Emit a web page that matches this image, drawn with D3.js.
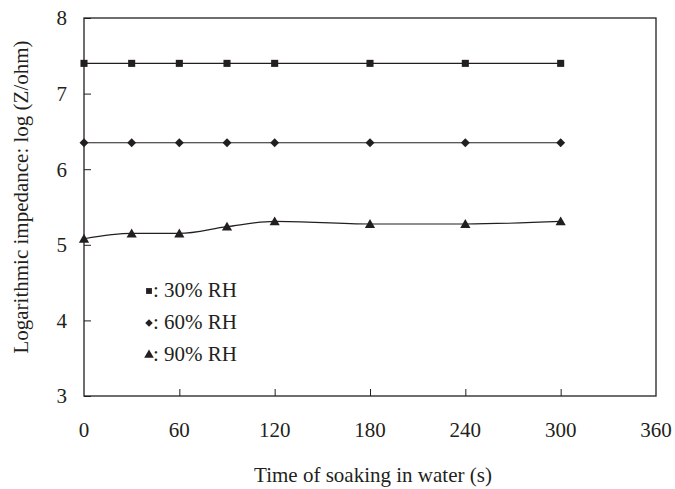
<!DOCTYPE html>
<html><head><meta charset="utf-8">
<script src="https://cdn.jsdelivr.net/npm/d3@7"></script>
<style>body{margin:0;background:#fff}svg{display:block}</style>
</head><body>
<script>
const times = [0, 30, 60, 90, 120, 180, 240, 300];
const rh30 = [7.40, 7.40, 7.40, 7.40, 7.40, 7.40, 7.40, 7.40];
const rh60 = [6.35, 6.35, 6.35, 6.35, 6.35, 6.35, 6.35, 6.35];
const rh90 = [5.08, 5.15, 5.15, 5.24, 5.31, 5.275, 5.275, 5.31];
const xTicks = [0, 60, 120, 180, 240, 300, 360];
const yTicks = [3, 4, 5, 6, 7, 8];
const seriesNames = [": 30% RH", ": 60% RH", " : 90% RH"];

const W = 675, H = 489;
const FONT = "'Liberation Serif', 'Times New Roman', Times, 'DejaVu Serif', serif";
const m = {l: 84, r: 19, t: 18, b: 93};
const svg = d3.select("body").append("svg").attr("width", W).attr("height", H)
  .attr("font-family", FONT);
const x = d3.scaleLinear().domain([0, 360]).range([m.l, W - m.r]);
const y = d3.scaleLinear().domain([3, 8]).range([H - m.b, m.t]);
const ink = "#231f20";
const T = sel => sel.attr("font-family", FONT).attr("fill", ink).attr("font-size", 21);

// frame
svg.append("rect").attr("x", x(0)).attr("y", y(8)).attr("width", x(360) - x(0)).attr("height", y(3) - y(8))
  .attr("fill", "none").attr("stroke", ink).attr("stroke-width", 1.3);

// y axis
const ya = svg.append("g").attr("transform", `translate(${x(0)},0)`)
  .call(d3.axisRight(y).tickValues(yTicks).tickSize(7).tickFormat(""));
ya.select(".domain").remove();
ya.selectAll("line").attr("stroke", ink);
svg.append("g").selectAll("text").data(yTicks).join("text")
  .attr("x", 67).attr("y", d => y(d)).attr("dy", "0.35em").attr("text-anchor", "end")
  .call(T).text(d => d);

// x axis
const xa = svg.append("g").attr("transform", `translate(0,${y(3)})`)
  .call(d3.axisTop(x).tickValues(xTicks.filter(d => d > 0 && d < 360)).tickSize(7).tickFormat(""));
xa.select(".domain").remove();
xa.selectAll("line").attr("stroke", ink);
svg.append("g").selectAll("text").data(xTicks).join("text")
  .attr("x", d => x(d)).attr("y", 437).attr("text-anchor", "middle")
  .call(T).text(d => d);

// titles
svg.append("text").attr("x", (x(0) + x(360)) / 2 + 3).attr("y", 482).attr("text-anchor", "middle")
  .call(T).text("Time of soaking in water (s)");
svg.append("text").attr("transform", `translate(28,${(y(3) + y(8)) / 2 - 10}) rotate(-90)`)
  .attr("text-anchor", "middle").call(T).text("Logarithmic impedance: log (Z/ohm)");

// symbols
const diamond = {draw(ctx, size) { const r = Math.sqrt(size / 2); ctx.moveTo(0, -r); ctx.lineTo(r, 0); ctx.lineTo(0, r); ctx.lineTo(-r, 0); ctx.closePath(); }};
const symbols = [d3.symbolSquare, diamond, d3.symbolTriangle];
const sizes = [50, 40, 45];
const data = [rh30, rh60, rh90];
const line = d3.line().x(d => x(d[0])).y(d => y(d[1])).curve(d3.curveMonotoneX);
data.forEach((vals, i) => {
  const pts = times.map((t, j) => [t, vals[j]]);
  svg.append("path").datum(pts).attr("d", line).attr("fill", "none").attr("stroke", ink).attr("stroke-width", 1.2);
  svg.append("g").selectAll("path").data(pts).join("path")
    .attr("transform", d => `translate(${x(d[0])},${y(d[1]) + (i === 2 ? 1 : 0)})`)
    .attr("d", d3.symbol(symbols[i], sizes[i])).attr("fill", ink);
});

// legend
const legY = [297, 329, 361];
seriesNames.forEach((s, i) => {
  svg.append("path").attr("transform", `translate(149,${legY[i] - 6})`)
    .attr("d", d3.symbol(symbols[i], [34, 28, 40][i])).attr("fill", ink);
  svg.append("text").attr("x", 153).attr("y", legY[i]).call(T).text(s);
});
</script>
</body></html>
